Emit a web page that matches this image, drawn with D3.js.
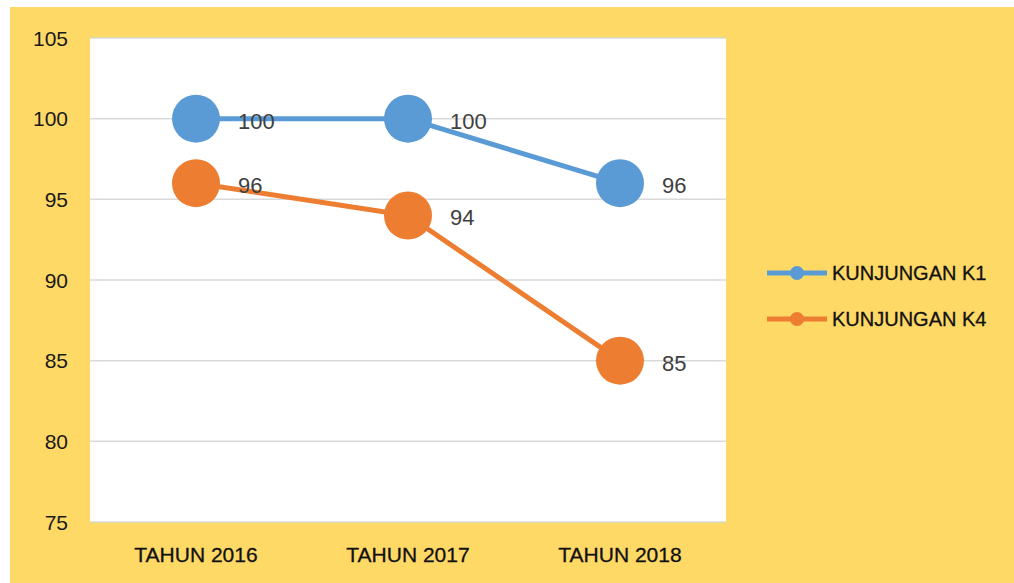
<!DOCTYPE html>
<html>
<head>
<meta charset="utf-8">
<script src="https://cdn.jsdelivr.net/npm/d3@7"></script>
<style>
  body { margin: 0; background: #fff; }
  svg { display: block; font-family: "Liberation Sans", Arial, sans-serif; }
</style>
</head>
<body>
<div id="chart"></div>
<script>
// chart values
var categories = ["TAHUN 2016", "TAHUN 2017", "TAHUN 2018"];
var seriesNames = ["KUNJUNGAN K1", "KUNJUNGAN K4"];
var k1Values = [100, 100, 96];
var k4Values = [96, 94, 85];
var yTicks = [75, 80, 85, 90, 95, 100, 105];

var width = 1014, height = 583;
var plot = {left: 90, top: 38, right: 726, bottom: 522};
var colors = ["#5B9BD5", "#ED7D31"];

var svg = d3.select("#chart").append("svg")
    .attr("width", width)
    .attr("height", height);

// yellow chart background
svg.append("rect")
    .attr("x", 10).attr("y", 7)
    .attr("width", width - 10).attr("height", height - 7)
    .attr("fill", "#FFD966");

// white plot area
svg.append("rect")
    .attr("x", plot.left).attr("y", plot.top)
    .attr("width", plot.right - plot.left).attr("height", plot.bottom - plot.top)
    .attr("fill", "#fff");

var x = d3.scalePoint()
    .domain(categories)
    .range([plot.left, plot.right])
    .padding(0.5);

var y = d3.scaleLinear()
    .domain([75, 105])
    .range([plot.bottom, plot.top]);

// gridlines
svg.append("g").selectAll("line").data(yTicks)
    .enter().append("line")
    .attr("x1", plot.left).attr("x2", plot.right)
    .attr("y1", function (d) { return y(d); })
    .attr("y2", function (d) { return y(d); })
    .attr("stroke", "#D9D9D9")
    .attr("stroke-width", 1.5);

// y tick labels
svg.append("g").selectAll("text").data(yTicks)
    .enter().append("text")
    .attr("x", 68)
    .attr("y", function (d) { return y(d); })
    .attr("dy", "0.36em")
    .attr("text-anchor", "end")
    .attr("font-size", 21)
    .attr("fill", "#1a1a1a")
    .text(function (d) { return d; });

// category labels
svg.append("g").selectAll("text").data(categories)
    .enter().append("text")
    .attr("x", function (d) { return x(d); })
    .attr("y", 562)
    .attr("text-anchor", "middle")
    .attr("font-size", 21)
    .attr("fill", "#111")
    .attr("stroke", "#111")
    .attr("stroke-width", 0.3)
    .text(function (d) { return d; });

var series = [k1Values, k4Values];

var line = d3.line()
    .x(function (d, i) { return x(categories[i]); })
    .y(function (d) { return y(d); });

series.forEach(function (vals, s) {
    var g = svg.append("g");
    g.append("path")
        .datum(vals)
        .attr("d", line)
        .attr("fill", "none")
        .attr("stroke", colors[s])
        .attr("stroke-width", 5)
        .attr("stroke-linejoin", "round");

    g.selectAll("circle").data(vals)
        .enter().append("circle")
        .attr("cx", function (d, i) { return x(categories[i]); })
        .attr("cy", function (d) { return y(d); })
        .attr("r", 24)
        .attr("fill", colors[s]);

    g.selectAll("text").data(vals)
        .enter().append("text")
        .attr("x", function (d, i) { return x(categories[i]) + 42; })
        .attr("y", function (d) { return y(d) + 2; })
        .attr("dy", "0.36em")
        .attr("font-size", 22)
        .attr("fill", "#404040")
        .text(function (d) { return d; });
});

// legend
var legend = svg.append("g").selectAll("g").data(seriesNames)
    .enter().append("g")
    .attr("transform", function (d, i) { return "translate(767," + (273 + i * 46) + ")"; });

legend.append("line")
    .attr("x1", 0).attr("x2", 60)
    .attr("stroke", function (d, i) { return colors[i]; })
    .attr("stroke-width", 5);

legend.append("circle")
    .attr("cx", 30).attr("r", 7)
    .attr("fill", function (d, i) { return colors[i]; });

legend.append("text")
    .attr("x", 65)
    .attr("dy", "0.36em")
    .attr("font-size", 20)
    .attr("fill", "#111")
    .attr("stroke", "#111")
    .attr("stroke-width", 0.3)
    .text(function (d) { return d; });
</script>
</body>
</html>
